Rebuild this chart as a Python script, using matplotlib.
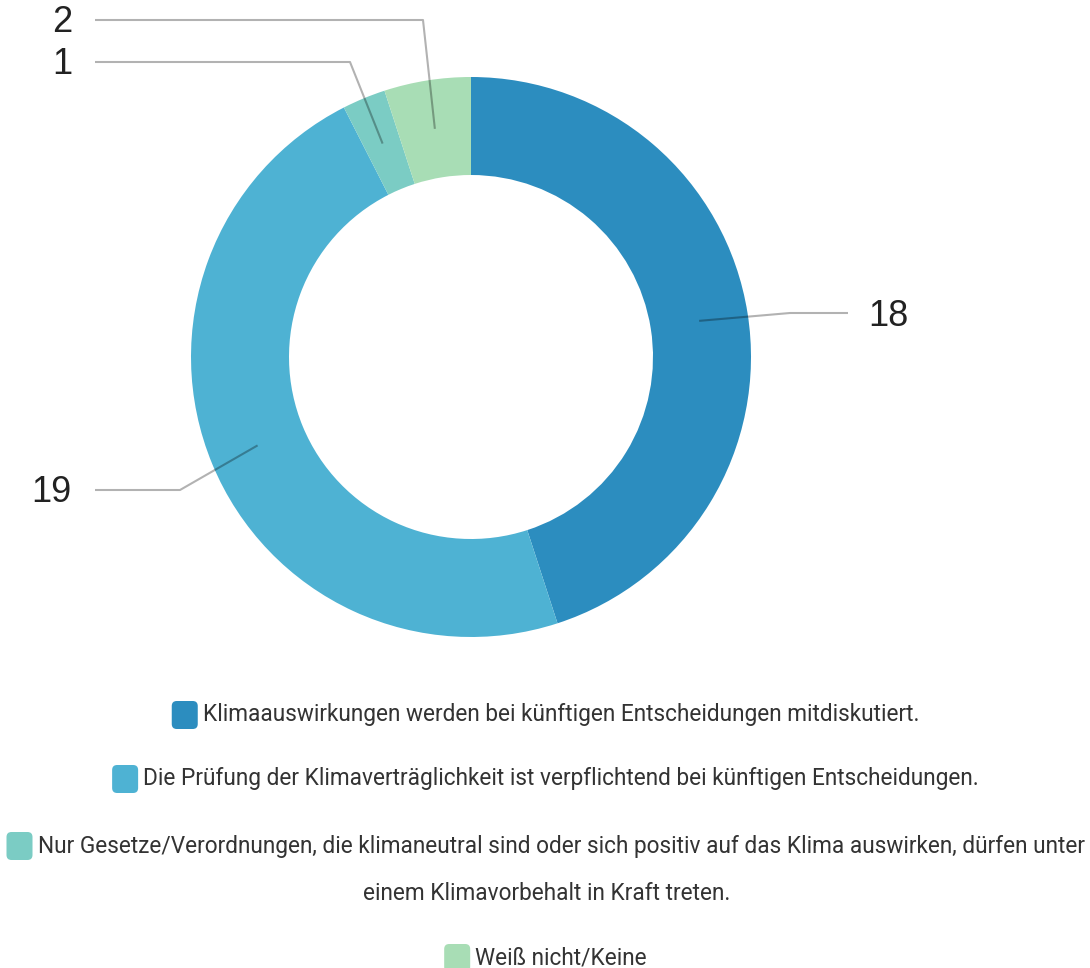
import numpy as np
import matplotlib.pyplot as plt
from matplotlib.patches import FancyBboxPatch

werte = [18, 19, 1, 2]
farben = ["#2C8DBF", "#4EB2D3", "#7BCCC4", "#A8DDB5"]
kategorien = [
    "Klimaauswirkungen werden bei künftigen Entscheidungen mitdiskutiert.",
    "Die Prüfung der Klimaverträglichkeit ist verpflichtend bei künftigen Entscheidungen.",
    "Nur Gesetze/Verordnungen, die klimaneutral sind oder sich positiv auf das Klima auswirken, dürfen unter\neinem Klimavorbehalt in Kraft treten.",
    "Weiß nicht/Keine",
]

W, H = 1090, 968
fig = plt.figure(figsize=(W / 100, H / 100), dpi=100)
ax = fig.add_axes([0, 0, 1, 1])
ax.set_xlim(0, W)
ax.set_ylim(0, H)
ax.set_aspect("equal")
ax.axis("off")

# Pixel-Koordinaten (von oben) -> Datenkoordinaten
def py(y):
    return H - y

cx, cy, r_aus, breite = 471, py(357), 280, 98
wedges, _ = ax.pie(werte, colors=farben, startangle=90, counterclock=False,
                   center=(cx, cy), radius=r_aus,
                   wedgeprops=dict(width=breite, linewidth=0))
ax.set_xlim(0, W)
ax.set_ylim(0, H)

# Beschriftungen mit Führungslinien: (Knick x, Knick y, Ende x, Text x, ha)
fuehrung = [
    (790, 313, 848, 868, "left"),
    (180, 490, 95, 72, "right"),
    (350, 62, 95, 72, "right"),
    (423, 20, 95, 72, "right"),
]
r_mitte = r_aus - breite / 2
for w, v, (kx, ky, ex, tx, ha) in zip(wedges, werte, fuehrung):
    winkel = np.deg2rad((w.theta1 + w.theta2) / 2)
    sx = cx + r_mitte * np.cos(winkel)
    sy = cy + r_mitte * np.sin(winkel)
    ax.plot([sx, kx, ex], [sy, py(ky), py(ky)], color="black", alpha=0.3,
            lw=1.5, solid_capstyle="butt", zorder=3)
    ax.text(tx, py(ky + 3), str(v), fontsize=26, family="Liberation Sans",
            color="#222222", ha=ha, va="center")

# Legende
zeilen_y = [715, 779, 846, 958]
fig.canvas.draw()
renderer = fig.canvas.get_renderer()
for farbe, text, y in zip(farben, kategorien, zeilen_y):
    zeilen = text.split("\n")
    t = ax.text(561, py(y), zeilen[0], fontsize=16.3, family="Roboto",
                color="#333333", ha="center", va="center")
    bb = t.get_window_extent(renderer)
    x1 = bb.x0 - 5
    ax.add_patch(FancyBboxPatch((x1 - 25, py(y) - 13), 24, 26,
                                boxstyle="round,pad=1,rounding_size=5",
                                facecolor=farbe, edgecolor="none"))
    if len(zeilen) > 1:
        ax.text(547, py(y + 48), zeilen[1], fontsize=16.3, family="Roboto",
                color="#333333", ha="center", va="center")

fig.savefig("out.png", dpi=100)
